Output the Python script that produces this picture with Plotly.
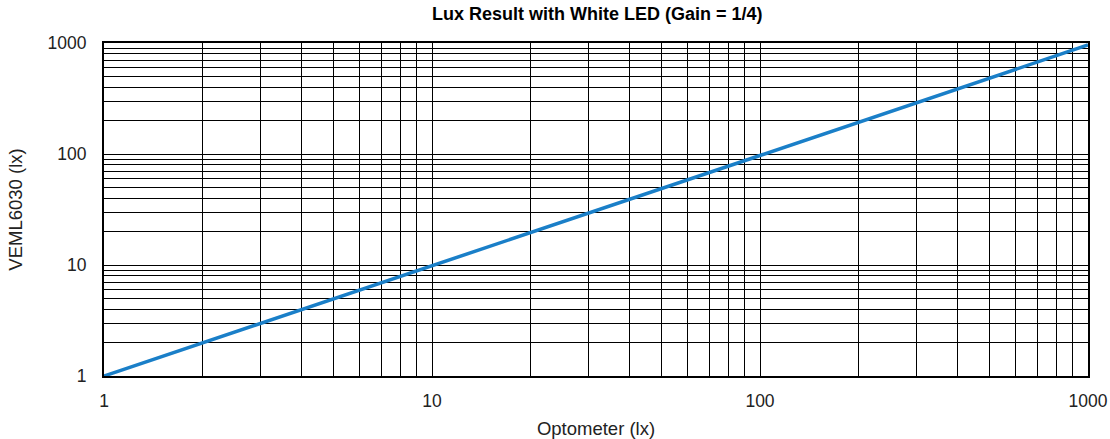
import plotly.graph_objects as go

optometer = [1, 10, 100, 1000]
veml = [1, 9.8, 97, 960]
tick_vals = [1, 10, 100, 1000]
tick_text = ["1", "10", "100", "1000"]

FONT = "Liberation Sans, Arial"

axis_common = dict(
    type="log", range=[0, 3], tickvals=tick_vals, ticktext=tick_text,
    showgrid=True, gridcolor="black", gridwidth=1,
    minor=dict(showgrid=True, gridcolor="black", gridwidth=1, dtick="D1", ticks=""),
    showline=True, linecolor="black", linewidth=2, mirror=True,
    ticks="", zeroline=False, automargin=False,
    tickfont=dict(family=FONT, size=17.5, color="#222"),
)

fig = go.Figure()
fig.add_trace(go.Scatter(x=optometer, y=veml, mode="lines",
                         line=dict(color="#1a7fc8", width=3.5), showlegend=False))

fig.update_layout(
    width=1110, height=439,
    margin=dict(l=104, r=22, t=43, b=63),
    paper_bgcolor="white", plot_bgcolor="white",
    title=dict(text="<b>Lux Result with White LED (Gain = 1/4)</b>",
               x=0.538, xanchor="center", yref="container", y=0.968, yanchor="middle",
               font=dict(family=FONT, size=18, color="black")),
    xaxis=dict(axis_common, ticklabelstandoff=8,
               title=dict(text="Optometer (lx)", standoff=12,
                          font=dict(family=FONT, size=18.5, color="#222"))),
    yaxis=dict(axis_common, ticklabelstandoff=12,
               title=dict(text="VEML6030 (lx)", standoff=20,
                          font=dict(family=FONT, size=18.5, color="#222"))),
)

fig.write_html("out.html", config={"displayModeBar": False},
               post_script="document.body.style.margin='0';document.body.style.overflow='hidden';")
